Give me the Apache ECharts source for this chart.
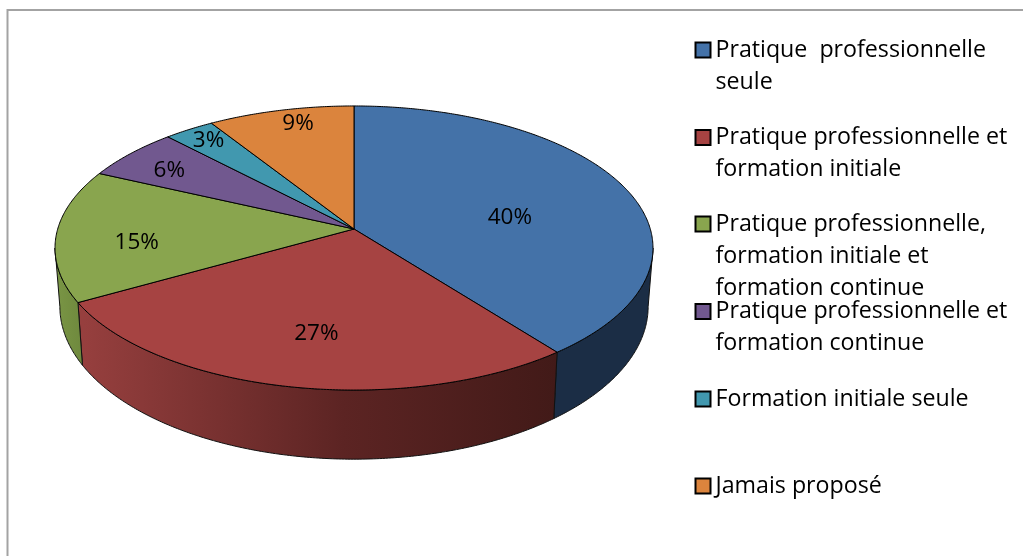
<!DOCTYPE html>
<html>
<head>
<meta charset="utf-8">
<style>html,body{margin:0;padding:0;background:#fff;overflow:hidden}#c{width:1023px;height:556px}</style>
<script src="https://cdn.jsdelivr.net/npm/echarts@6/dist/echarts.min.js"></script>
</head>
<body>
<div id="c"></div>
<script>
// ---- data ----
var categories = [
  'Pratique  professionnelle seule',
  'Pratique professionnelle et formation initiale',
  'Pratique professionnelle, formation initiale et formation continue',
  'Pratique professionnelle et formation continue',
  'Formation initiale seule',
  'Jamais proposé'
];
var legendLines = [
  ['Pratique  professionnelle', 'seule'],
  ['Pratique professionnelle et', 'formation initiale'],
  ['Pratique professionnelle,', 'formation initiale et', 'formation continue'],
  ['Pratique professionnelle et', 'formation continue'],
  ['Formation initiale seule'],
  ['Jamais proposé']
];
var shares = [39.5, 27.3, 15.1, 6.0, 3.1, 9.0];

// ---- styling ----
var topColors = ['#4472A8', '#A64342', '#89A54E', '#71588F', '#4198AF', '#DB843D'];
var FONT = '"Open Sans"';
var LEGEND_FONT_SIZE = 23.2, LABEL_FONT_SIZE = 22.5, LEGEND_LINE = 32;
var legendCentres = [50, 137.5, 224, 311.5, 399, 486];
var labelReach = [0.58, 0.62, 0.73, 0.80, 0.90, 0.86];
var labelShiftX = [0, 4, 0, -6, 3, 7];
var labelShiftY = [14, 7, 9, 2, 1, -3];

// perspective disc: apex, half-width, depth scale, foreshortening
var CX = 354, TOP_Y = 229, A = 296.3, B = 139.5, K = 0.1338;
var BOTTOM_Y = 286, BOTTOM_A = 291.5, BOTTOM_B = 150;

function project(frac, a, b, cy) {
  var t = frac * 2 * Math.PI, u = Math.sin(t), v = -Math.cos(t), d = 1 - K * v;
  return [CX + a * u / d, cy + b * v / d];
}
function arc(f0, f1, a, b, cy) {
  var n = Math.max(2, Math.ceil(Math.abs(f1 - f0) * 720)), pts = [];
  for (var i = 0; i <= n; i++) pts.push(project(f0 + (f1 - f0) * i / n, a, b, cy));
  return pts;
}
function sideFill(i) {
  if (i === 1) {
    return new echarts.graphic.LinearGradient(84, 0, 556, 0, [
      { offset: 0, color: '#963F3E' },
      { offset: 0.55, color: '#5C2423' },
      { offset: 1, color: '#421A18' }
    ], true);
  }
  if (i === 0) return '#1B2D45';
  return new echarts.graphic.LinearGradient(55, 0, 84, 0, [
    { offset: 0, color: '#7A9645' },
    { offset: 1, color: '#6E883D' }
  ], true);
}
var total = shares.reduce(function (s, x) { return s + x; }, 0);
var VIS_START = Math.acos(-K) / (2 * Math.PI);      // right silhouette
var VIS_END = 1 - VIS_START;                        // left silhouette
var starts = [];
shares.reduce(function (s, x, i) { starts[i] = s; return s + x; }, 0);

function makeRender(i) {
  return function (params, api) {
    var share = api.value(0);
    var f0 = starts[i] / total, f1 = f0 + share / total, children = [];
    var s0 = Math.max(f0, VIS_START), s1 = Math.min(f1, VIS_END);
    if (s1 > s0) {
      var wall = arc(s0, s1, A, B, TOP_Y).concat(arc(s1, s0, BOTTOM_A, BOTTOM_B, BOTTOM_Y));
      children.push({
        type: 'polygon', z2: 1, shape: { points: wall },
        style: { fill: sideFill(i), stroke: '#111', lineWidth: 1 }
      });
    }
    var face = [[CX, TOP_Y]].concat(arc(f0, f1, A, B, TOP_Y));
    children.push({
      type: 'polygon', z2: 2, shape: { points: face },
      style: { fill: topColors[i], stroke: '#000', lineWidth: 1, lineJoin: 'round' }
    });
    var edge = project((f0 + f1) / 2, A, B, TOP_Y);
    children.push({
      type: 'text', z2: 3,
      style: {
        x: CX + (edge[0] - CX) * labelReach[i] + labelShiftX[i],
        y: TOP_Y + (edge[1] - TOP_Y) * labelReach[i] + labelShiftY[i],
        text: Math.round(share) + '%',
        align: 'center', verticalAlign: 'middle',
        fill: '#000', font: LABEL_FONT_SIZE + 'px ' + FONT
      }
    });
    return { type: 'group', children: children };
  };
}

var chart = echarts.init(document.getElementById('c'), null, { renderer: 'canvas' });
chart.setOption({
  animation: false,
  backgroundColor: '#fff',
  graphic: [{
    type: 'rect', silent: true, z: -1,
    shape: { x: 7.5, y: 10, width: 1200, height: 800 },
    style: { fill: 'none', stroke: '#A3A3A3', lineWidth: 2 }
  }],
  legend: categories.map(function (name, i) {
    var lines = legendLines[i], n = lines.length;
    var padded = new Array(n - 1).fill('').concat(lines).join('\n');
    return {
      data: [name],
      orient: 'vertical',
      left: 694.5,
      top: legendCentres[i] - (2 * n - 1) * LEGEND_LINE / 2,
      padding: 0,
      itemWidth: 15,
      itemHeight: 15,
      icon: 'rect',
      selectedMode: false,
      itemStyle: { borderColor: '#000', borderWidth: 2 },
      formatter: function () { return padded; },
      textStyle: { fontFamily: FONT, fontSize: LEGEND_FONT_SIZE, color: '#000', lineHeight: LEGEND_LINE }
    };
  }),
  series: categories.map(function (name, i) {
    return {
      type: 'custom',
      name: name,
      coordinateSystem: 'none',
      silent: true,
      itemStyle: { color: topColors[i] },
      data: [[shares[i]]],
      renderItem: makeRender(i)
    };
  })
});
</script>
</body>
</html>
